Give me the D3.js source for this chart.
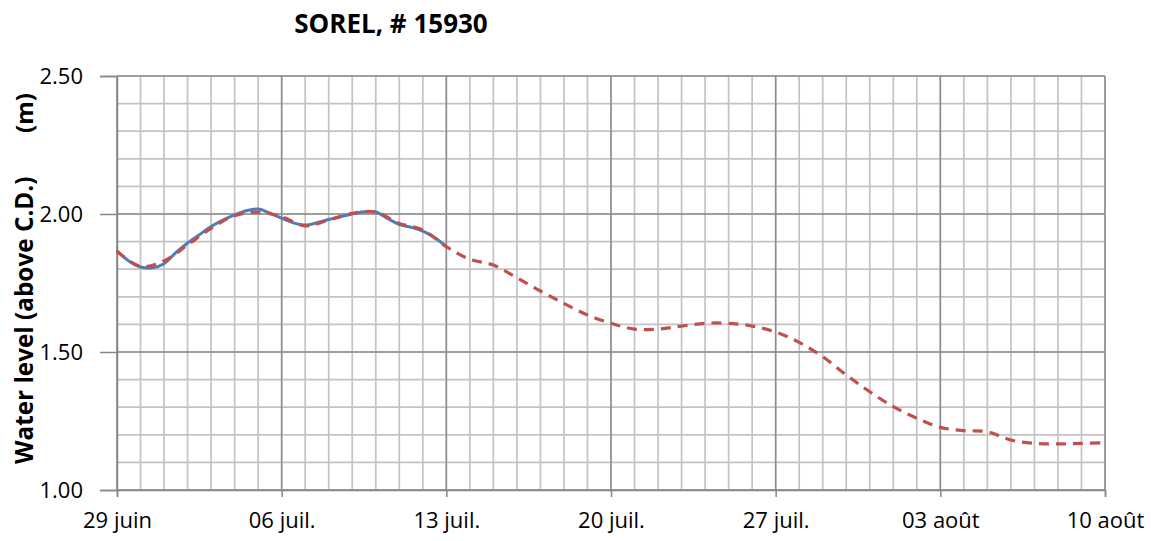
<!DOCTYPE html>
<html>
<head>
<meta charset="utf-8">
<script src="https://cdn.jsdelivr.net/npm/d3@7"></script>
<style>
  body { margin: 0; background: #fff; }
  svg text { font-family: 'Open Sans', sans-serif; fill: #000; }
</style>
</head>
<body>
<div id="chart"></div>
<script>
// station and labels
const title = 'SOREL, # 15930';
const yLabel = 'Water level (above C.D.)';
const yUnit = '(m)';
const xTickLabels = ['29 juin', '06 juil.', '13 juil.', '20 juil.', '27 juil.', '03 août', '10 août'];
const yTicks = [1.0, 1.5, 2.0, 2.5];

// observed levels, every half day from 29 juin
const observed = [
    1.867, 1.83, 1.808, 1.805, 1.82, 1.86, 1.895, 1.925, 1.955, 1.978,
    1.997, 2.012, 2.018, 2.003, 1.985, 1.968, 1.96, 1.968, 1.98, 1.99,
    2.0, 2.008, 2.007, 1.984, 1.962, 1.952, 1.938, 1.915, 1.882
];

// forecast levels, one per day from 29 juin
const forecast = [
    1.865, 1.81, 1.83, 1.888, 1.948, 1.994, 2.007, 1.99, 1.957, 1.978,
    2.002, 2.007, 1.966, 1.942, 1.882, 1.836, 1.815, 1.769, 1.721, 1.676,
    1.634, 1.604, 1.583, 1.583, 1.594, 1.604, 1.604, 1.594, 1.572, 1.535,
    1.483, 1.417, 1.356, 1.302, 1.26, 1.227, 1.215, 1.211, 1.181, 1.169,
    1.167, 1.169, 1.171
];

const start = new Date(2015, 5, 29);
const end = d3.timeDay.offset(start, 42);

const width = 1151;
const height = 541;
const margin = { top: 76, right: 46, bottom: 51, left: 117 };

const svg = d3.select('#chart')
    .append('svg')
    .attr('width', width)
    .attr('height', height);

const xScale = d3.scaleTime()
    .domain([start, end])
    .range([margin.left, width - margin.right]);

const yScale = d3.scaleLinear()
    .domain([1.0, 2.5])
    .range([height - margin.bottom, margin.top]);

const days = d3.timeDay.range(start, d3.timeDay.offset(end, 1));
const weeks = d3.timeDay.range(start, d3.timeDay.offset(end, 1), 7);
const minorY = d3.range(1.0, 2.501, 0.1);

// minor gridlines
const grid = svg.append('g').attr('class', 'grid');
grid.selectAll('.vminor')
    .data(days)
    .join('line')
    .attr('x1', (d) => xScale(d))
    .attr('x2', (d) => xScale(d))
    .attr('y1', margin.top)
    .attr('y2', height - margin.bottom)
    .attr('stroke', '#c3c3c3')
    .attr('stroke-width', 1.7);

grid.selectAll('.hminor')
    .data(minorY)
    .join('line')
    .attr('x1', margin.left)
    .attr('x2', width - margin.right)
    .attr('y1', (d) => yScale(d))
    .attr('y2', (d) => yScale(d))
    .attr('stroke', '#c3c3c3')
    .attr('stroke-width', 1.7);

// major gridlines
grid.selectAll('.vmajor')
    .data(weeks)
    .join('line')
    .attr('x1', (d) => xScale(d))
    .attr('x2', (d) => xScale(d))
    .attr('y1', margin.top)
    .attr('y2', height - margin.bottom)
    .attr('stroke', '#8c8c8c')
    .attr('stroke-width', 1.5);

grid.selectAll('.hmajor')
    .data(yTicks)
    .join('line')
    .attr('x1', margin.left)
    .attr('x2', width - margin.right)
    .attr('y1', (d) => yScale(d))
    .attr('y2', (d) => yScale(d))
    .attr('stroke', '#8c8c8c')
    .attr('stroke-width', 1.5);

// axes
const xAxis = d3.axisBottom(xScale)
    .tickValues(weeks)
    .tickSize(7)
    .tickFormat((d, i) => xTickLabels[i]);

const yAxis = d3.axisLeft(yScale)
    .tickValues(yTicks)
    .tickSize(17)
    .tickFormat(d3.format('.2f'));

const gx = svg.append('g')
    .attr('transform', `translate(0, ${height - margin.bottom})`)
    .call(xAxis);

const gy = svg.append('g')
    .attr('transform', `translate(${margin.left}, 0)`)
    .call(yAxis);

[gx, gy].forEach((g) => {
    g.select('.domain').attr('stroke', '#868686').attr('stroke-width', 1.5);
    g.selectAll('.tick line').attr('stroke', '#868686').attr('stroke-width', 1.5);
    g.selectAll('.tick text').style('font-size', '22px').attr('fill', '#000');
});
gx.selectAll('.tick text').attr('y', 38).attr('dy', null);
gy.selectAll('.tick text').attr('x', -34);

// series
const obsLine = d3.line()
    .x((d, i) => xScale(d3.timeHour.offset(start, i * 12)))
    .y((d) => yScale(d))
    .curve(d3.curveCatmullRom);

const fcLine = d3.line()
    .x((d, i) => xScale(d3.timeDay.offset(start, i)))
    .y((d) => yScale(d))
    .curve(d3.curveCatmullRom);

svg.append('path')
    .datum(observed)
    .attr('d', obsLine)
    .attr('fill', 'none')
    .attr('stroke', '#4a7ebb')
    .attr('stroke-width', 3);

svg.append('path')
    .datum(forecast)
    .attr('d', fcLine)
    .attr('fill', 'none')
    .attr('stroke', '#c0504d')
    .attr('stroke-width', 3.2)
    .attr('stroke-dasharray', '10,7');

// titles
svg.append('text')
    .attr('x', 391)
    .attr('y', 33)
    .attr('text-anchor', 'middle')
    .style('font-size', '26px')
    .style('font-weight', 'bold')
    .text(title);

svg.append('text')
    .attr('transform', 'translate(33, 464) rotate(-90)')
    .style('font-size', '24.3px')
    .style('font-weight', 'bold')
    .text(yLabel);

svg.append('text')
    .attr('transform', 'translate(33, 113) rotate(-90)')
    .attr('text-anchor', 'middle')
    .style('font-size', '24px')
    .style('font-weight', 'bold')
    .text(yUnit);
</script>
</body>
</html>
